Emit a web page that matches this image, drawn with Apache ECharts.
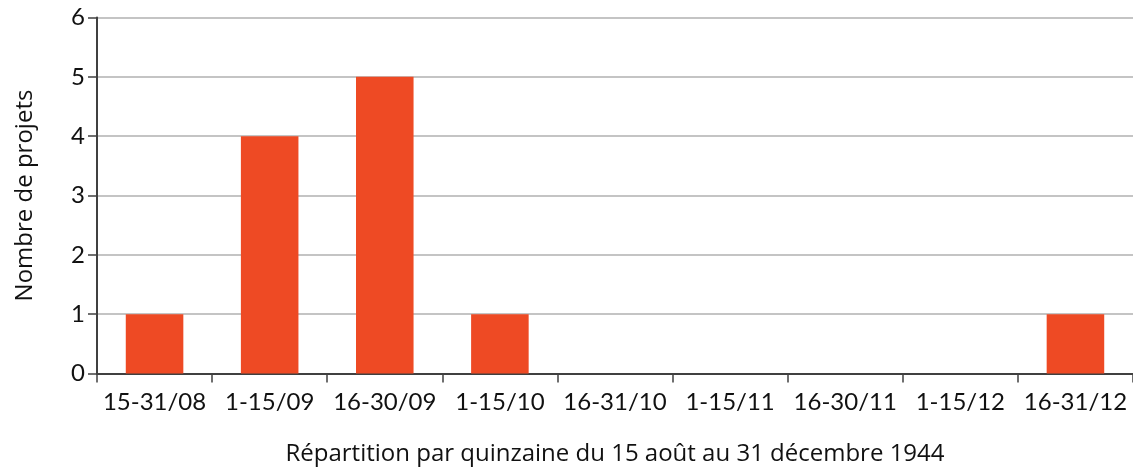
<!DOCTYPE html>
<html><head><meta charset="utf-8">
<script src="https://cdn.jsdelivr.net/npm/echarts@6/dist/echarts.min.js"></script>
<style>html,body{margin:0;padding:0;background:#fff}#c{width:1133px;height:472px}</style>
</head><body><div id="c"></div>
<script>
const categories = ['15-31/08','1-15/09','16-30/09','1-15/10','16-31/10','1-15/11','16-30/11','1-15/12','16-31/12'];
const values = [1,4,5,1,0,0,0,0,1];
const yTicks = [0,1,2,3,4,5,6];
const xTitle = 'Répartition par quinzaine du 15 août au 31 décembre 1944';
const yTitle = 'Nombre de projets';
const font = 'Lato, "Open Sans", sans-serif';
const tfont = '"Open Sans", Lato, sans-serif';
const chart = echarts.init(document.getElementById('c'));
chart.setOption({
  animation:false,
  grid:{left:97,right:-1,top:17.5,bottom:98.5,containLabel:false},
  xAxis:{type:'category',data:categories,
    axisLine:{lineStyle:{color:'#404040',width:2}},
    axisTick:{show:true,interval:0,length:9,lineStyle:{color:'#404040',width:1.5}},
    axisLabel:{color:'#111',fontSize:24,fontFamily:font,margin:17,interval:0,hideOverlap:false},
    name:xTitle,nameLocation:'middle',nameGap:81,
    nameTextStyle:{color:'#111',fontSize:24,fontFamily:tfont,verticalAlign:'middle'}},
  yAxis:{type:'value',min:0,max:6,interval:1,
    axisLine:{show:true,lineStyle:{color:'#404040',width:2}},
    axisTick:{show:true,length:9,lineStyle:{color:'#404040',width:1.5}},
    splitLine:{lineStyle:{color:'#c4c4c4',width:2}},
    axisLabel:{color:'#111',fontSize:24,fontFamily:font,margin:12,
      formatter:v=>yTicks.includes(v)?String(v):''},
    name:yTitle,nameLocation:'middle',nameGap:72,nameRotate:90,
    nameTextStyle:{color:'#111',fontSize:24,fontFamily:tfont,verticalAlign:'middle'}},
  series:[{type:'bar',data:values,barWidth:'50%',itemStyle:{color:'#EE4A24'}}]
});
</script></body></html>
